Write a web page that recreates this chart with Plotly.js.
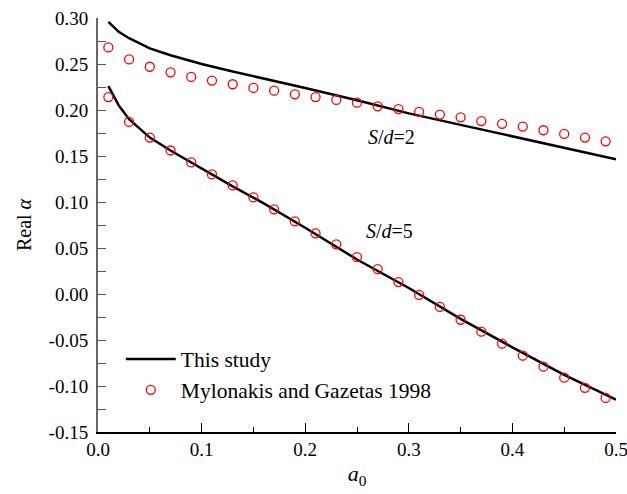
<!DOCTYPE html>
<html>
<head>
<meta charset="utf-8">
<script src="https://cdn.plot.ly/plotly-3.0.1.min.js"></script>
<style>html,body{margin:0;padding:0;background:#fff;}#chart{width:627px;height:494px;}</style>
</head>
<body>
<div id="chart"></div>
<script>
// Data
const a0Study = [0.01, 0.02, 0.03, 0.05, 0.07, 0.10, 0.13, 0.16, 0.20, 0.25, 0.30, 0.35, 0.40, 0.45, 0.50];
const studySd2 = [0.2957, 0.285, 0.278, 0.267, 0.2595, 0.250, 0.2418, 0.2343, 0.224, 0.2105, 0.1963, 0.1838, 0.1713, 0.1589, 0.1464];
const studySd5 = [0.226, 0.205, 0.190, 0.170, 0.156, 0.1365, 0.117, 0.0985, 0.072, 0.0375, 0.0065, -0.027, -0.058, -0.088, -0.1148];

const a0Ref = [0.01, 0.03, 0.05, 0.07, 0.09, 0.11, 0.13, 0.15, 0.17, 0.19, 0.21, 0.23, 0.25,
               0.27, 0.29, 0.31, 0.33, 0.35, 0.37, 0.39, 0.41, 0.43, 0.45, 0.47, 0.49];
const refSd2 = [0.268, 0.255, 0.247, 0.241, 0.236, 0.232, 0.228, 0.224, 0.221, 0.217, 0.214, 0.211, 0.208,
                0.204, 0.201, 0.198, 0.195, 0.192, 0.188, 0.185, 0.182, 0.178, 0.174, 0.170, 0.166];
const refSd5 = [0.214, 0.187, 0.170, 0.156, 0.143, 0.130, 0.118, 0.105, 0.092, 0.079, 0.066, 0.054, 0.040,
                0.027, 0.013, -0.001, -0.014, -0.028, -0.041, -0.054, -0.067, -0.079, -0.091, -0.102, -0.113];

const xTicks = [0, 0.1, 0.2, 0.3, 0.4, 0.5];
const xTickText = ['0.0', '0.1', '0.2', '0.3', '0.4', '0.5'];
const yTicks = [-0.15, -0.10, -0.05, 0, 0.05, 0.10, 0.15, 0.20, 0.25, 0.30];
const yTickText = ['-0.15', '-0.10', '-0.05', '0.00', '0.05', '0.10', '0.15', '0.20', '0.25', '0.30'];

const legendNames = ['This study', 'Mylonakis and Gazetas 1998'];
const curveLabels = ['<i>S</i>/<i>d</i>=2', '<i>S</i>/<i>d</i>=5'];
const labelPos = [[0.259, 0.171], [0.257, 0.069]];

const serif = 'Liberation Serif';
const lineStyle = {color: '#000', width: 2.5};
const markerStyle = {symbol: 'circle-open', size: 9, color: '#ff0000', line: {color: '#ff0000', width: 1.3}};

const traces = [
  {x: a0Study, y: studySd2, mode: 'lines', line: lineStyle, name: legendNames[0], showlegend: true},
  {x: a0Study, y: studySd5, mode: 'lines', line: lineStyle, name: legendNames[0], showlegend: false},
  {x: a0Ref, y: refSd2, mode: 'markers', marker: markerStyle, name: legendNames[1], showlegend: true},
  {x: a0Ref, y: refSd5, mode: 'markers', marker: markerStyle, name: legendNames[1], showlegend: false}
];

const layout = {
  width: 627, height: 494,
  margin: {l: 98, r: 11, t: 18, b: 62},
  paper_bgcolor: '#fff', plot_bgcolor: '#fff',
  font: {family: serif, size: 19, color: '#000'},
  showlegend: true,
  legend: {x: 0.044, y: 0.226, xanchor: 'left', yanchor: 'top', bgcolor: 'rgba(0,0,0,0)',
           font: {family: serif, size: 21.5, color: '#000'}, itemwidth: 50, tracegroupgap: 0},
  xaxis: {
    range: [0, 0.5], tickmode: 'array', tickvals: xTicks, ticktext: xTickText,
    ticklabeloverflow: 'allow',
    showgrid: false, zeroline: false, showline: true, linecolor: '#000', linewidth: 1.5,
    ticks: 'inside', ticklen: 9, tickwidth: 1, tickcolor: '#000',
    minor: {dtick: 0.05, tick0: 0, ticks: 'inside', ticklen: 5, tickwidth: 1, tickcolor: '#000', showgrid: false},
    tickfont: {family: serif, size: 19, color: '#000'},
    title: {text: '<i>a</i><sub>0</sub>', font: {family: serif, size: 22, color: '#000'}, standoff: 6}
  },
  yaxis: {
    range: [-0.15, 0.30], tickmode: 'array', tickvals: yTicks, ticktext: yTickText,
    showgrid: false, zeroline: false, showline: true, linecolor: '#666', linewidth: 2,
    ticks: 'inside', ticklen: 8, tickwidth: 1, tickcolor: '#555',
    minor: {dtick: 0.025, tick0: 0, ticks: 'inside', ticklen: 8, tickwidth: 1, tickcolor: '#555', showgrid: false},
    tickfont: {family: serif, size: 19, color: '#000'},
    ticklabelstandoff: 4,
    title: {text: 'Real <i>α</i>', font: {family: serif, size: 20, color: '#000'}, standoff: 12}
  },
  annotations: curveLabels.map((t, i) => ({
    text: t, x: labelPos[i][0], y: labelPos[i][1], xref: 'x', yref: 'y',
    xanchor: 'left', yanchor: 'middle', showarrow: false,
    font: {family: serif, size: 20, color: '#000'}
  }))
};

Plotly.newPlot('chart', traces, layout, {displayModeBar: false, staticPlot: true});
</script>
</body>
</html>
